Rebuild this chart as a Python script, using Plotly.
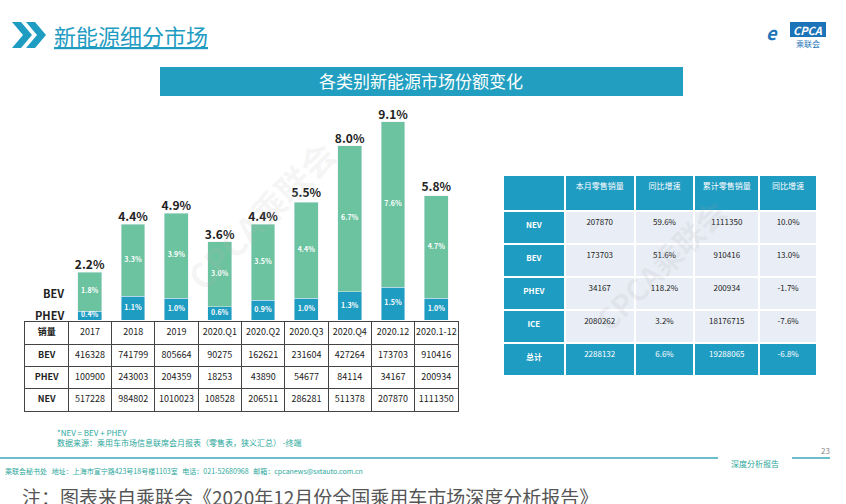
import plotly.graph_objects as go

W, H = 846, 504
cats = ["2017", "2018", "2019", "2020.Q1", "2020.Q2", "2020.Q3", "2020.Q4", "2020.12", "2020.1-12"]
phev_share = [0.4, 1.1, 1.0, 0.6, 0.9, 1.0, 1.3, 1.5, 1.0]
bev_share = [1.8, 3.3, 3.9, 3.0, 3.5, 4.4, 6.7, 7.6, 4.7]
total_share = [2.2, 4.4, 4.9, 3.6, 4.4, 5.5, 8.0, 9.1, 5.8]

bev_sales = [416328, 741799, 805664, 90275, 162621, 231604, 427264, 173703, 910416]
phev_sales = [100900, 243003, 204359, 18253, 43890, 54677, 84114, 34167, 200934]
nev_sales = [517228, 984802, 1010023, 108528, 206511, 286281, 511378, 207870, 1111350]
table_rows = ["销量", "BEV", "PHEV", "NEV"]

rt_header = ["", "本月零售销量", "同比增速", "累计零售销量", "同比增速"]
rt_rows = ["NEV", "BEV", "PHEV", "ICE", "总计"]
rt_month = ["207870", "173703", "34167", "2080262", "2288132"]
rt_month_yoy = ["59.6%", "51.6%", "118.2%", "3.2%", "6.6%"]
rt_cum = ["1111350", "910416", "200934", "18176715", "19288065"]
rt_cum_yoy = ["10.0%", "13.0%", "-1.7%", "-7.6%", "-6.8%"]

BLUE = "#1f9cc2"
GREEN = "#6cc3a0"
FONT = "Noto Sans CJK SC"

def px(x): return x / W
def py(y): return 1 - y / H

fig = go.Figure()
fig.add_trace(go.Bar(x=cats, y=phev_share, marker_color=BLUE, name="PHEV"))
fig.add_trace(go.Bar(x=cats, y=bev_share, marker_color=GREEN, name="BEV"))
fig.add_trace(go.Scatter(x=cats, y=[p / 2 for p in phev_share], mode="text",
                         text=[f"<b>{v:.1f}%</b>" for v in phev_share], cliponaxis=False,
                         textfont=dict(size=7, color="white", family=FONT)))
fig.add_trace(go.Scatter(x=cats, y=[p + b / 2 for p, b in zip(phev_share, bev_share)], mode="text",
                         text=[f"<b>{v:.1f}%</b>" for v in bev_share], cliponaxis=False,
                         textfont=dict(size=7, color="white", family=FONT)))
fig.add_trace(go.Scatter(x=cats, y=total_share, mode="text",
                         text=[f"<b>{v:.1f}%</b>" for v in total_share],
                         textposition="top center", cliponaxis=False,
                         textfont=dict(size=12, color="#222", family=FONT)))

# left data table drawn on its own grid axes
tx, ty, tt = [], [], []
for r, lab in enumerate(table_rows):
    tx.append(-1); ty.append(r); tt.append(f"<b>{lab}</b>")
for i, c in enumerate(cats):
    for r, v in enumerate([c, bev_sales[i], phev_sales[i], nev_sales[i]]):
        tx.append(i); ty.append(r); tt.append(str(v))
fig.add_trace(go.Scatter(x=tx, y=ty, text=tt, mode="text", xaxis="x2", yaxis="y2",
                         textfont=dict(size=9, color="#222", family=FONT)))

# right table
BODY = "#e9eef6"
cols = [rt_rows, rt_month, rt_month_yoy, rt_cum, rt_cum_yoy]
fills = [[BLUE] * 5] + [[BODY] * 4 + [BLUE] for _ in range(4)]
fcols = [["white"] * 5] + [["#222"] * 4 + ["white"] for _ in range(4)]
fig.add_trace(go.Table(
    domain=dict(x=[px(503), px(818)], y=[py(382), py(175)]),
    columnwidth=[62, 70, 60, 65, 58],
    header=dict(values=rt_header, fill_color=BLUE, line_color="white", line_width=2,
                font=dict(size=8, color="white", family=FONT), align="center", height=36),
    cells=dict(values=[[f"<b>{v}</b>" for v in c] if i == 0 else c for i, c in enumerate(cols)],
               fill_color=fills, line_color="white", line_width=2,
               font=dict(size=8, color=fcols, family=FONT), align="center", height=33)))

shapes = [
    dict(type="path", xref="paper", yref="paper",
         path=f"M {px(12)} {py(22)} L {px(21)} {py(22)} L {px(32)} {py(35)} L {px(21)} {py(48)} L {px(12)} {py(48)} L {px(23)} {py(35)} Z",
         fillcolor=BLUE, line_width=0),
    dict(type="path", xref="paper", yref="paper",
         path=f"M {px(26)} {py(22)} L {px(35)} {py(22)} L {px(46)} {py(35)} L {px(35)} {py(48)} L {px(26)} {py(48)} L {px(37)} {py(35)} Z",
         fillcolor=BLUE, line_width=0),
    dict(type="rect", xref="paper", yref="paper", x0=px(160), x1=px(683), y0=py(96), y1=py(67),
         fillcolor="#229fc0", line_width=0),
    dict(type="rect", xref="paper", yref="paper", x0=px(790), x1=px(826), y0=py(37), y1=py(22),
         fillcolor="#1c74b8", line_width=0),
    dict(type="line", xref="paper", yref="paper", x0=0, x1=px(718), y0=py(458), y1=py(458),
         line=dict(color="#3aa9b8", width=1.5)),
    dict(type="line", xref="paper", yref="paper", x0=px(792), x1=px(830), y0=py(458), y1=py(458),
         line=dict(color="#3aa9b8", width=1.5)),
]

ann = [
    dict(x=px(52), y=py(35), text="<u>新能源细分市场</u>", font=dict(size=22, color=BLUE, family=FONT), xanchor="left"),
    dict(x=px(421), y=py(81), text="各类别新能源市场份额变化", font=dict(size=17, color="white", family=FONT)),
    dict(x=px(808), y=py(30), text="<b><i>CPCA</i></b>", font=dict(size=11, color="white", family=FONT)),
    dict(x=px(808), y=py(43), text="乘联会", font=dict(size=8, color="#1c74b8", family=FONT)),
    dict(x=px(772), y=py(32), text="<b><i>e</i></b>", font=dict(size=18, color="#1c74b8", family=FONT)),
    dict(x=px(66), y=py(293), text="<b>BEV</b>", font=dict(size=11, color="#222", family=FONT), xanchor="right"),
    dict(x=px(66), y=py(315), text="<b>PHEV</b>", font=dict(size=11, color="#222", family=FONT), xanchor="right"),
    dict(x=px(55), y=py(432), text="*NEV = BEV + PHEV", font=dict(size=8, color="#2aa79b", family=FONT), xanchor="left"),
    dict(x=px(55), y=py(442), text="数据来源：乘用车市场信息联席会月报表（零售表，狭义汇总） -终端", font=dict(size=8, color="#2aa79b", family=FONT), xanchor="left"),
    dict(x=px(755), y=py(463), text="深度分析报告", font=dict(size=8, color="#2aa79b", family=FONT)),
    dict(x=px(825), y=py(450), text="23", font=dict(size=8, color="#888", family=FONT)),
    dict(x=px(3), y=py(471), text="乘联会秘书处   地址：上海市宣宁路423号18号楼1103室   电话：021-52680968   邮箱：cpcanews@sxtauto.com.cn",
         font=dict(size=7, color="#2aa79b", family=FONT), xanchor="left"),
    dict(x=px(20), y=py(496), text="注：图表来自乘联会《2020年12月份全国乘用车市场深度分析报告》",
         font=dict(size=19, color="#555", family=FONT), xanchor="left"),
    dict(x=px(260), y=py(215), text="<b>CPCA乘联会</b>", textangle=-45, font=dict(size=34, color="rgba(180,180,180,0.12)", family=FONT)),
    dict(x=px(660), y=py(265), text="<b>CPCA乘联会</b>", textangle=-45, font=dict(size=30, color="rgba(160,160,160,0.12)", family=FONT)),
]
for a in ann:
    a.setdefault("xanchor", "center")
    a.update(xref="paper", yref="paper", showarrow=False, yanchor="middle")

grid = dict(showgrid=True, gridcolor="#444", gridwidth=1, dtick=1, tick0=-0.5,
            showticklabels=False, ticks="", zeroline=False, showline=True, mirror=True,
            linecolor="#444", linewidth=1, fixedrange=True)
fig.update_layout(
    width=W, height=H, margin=dict(l=0, r=0, t=0, b=0),
    paper_bgcolor="white", plot_bgcolor="rgba(0,0,0,0)", barmode="stack", bargap=0.45,
    showlegend=False, shapes=shapes, annotations=ann,
    xaxis=dict(domain=[px(68), px(458)], visible=False, fixedrange=True),
    yaxis=dict(domain=[py(320), py(102)], range=[0, 10], visible=False, fixedrange=True),
    xaxis2=dict(domain=[px(25), px(458)], range=[-1.5, 8.5], anchor="y2", **grid),
    yaxis2=dict(domain=[py(411), py(322)], range=[3.5, -0.5], anchor="x2", **grid),
    font=dict(family=FONT),
)
fig.write_html("out.html", config={"displayModeBar": False},
               post_script="document.body.style.margin='0';document.body.style.overflow='hidden';")
